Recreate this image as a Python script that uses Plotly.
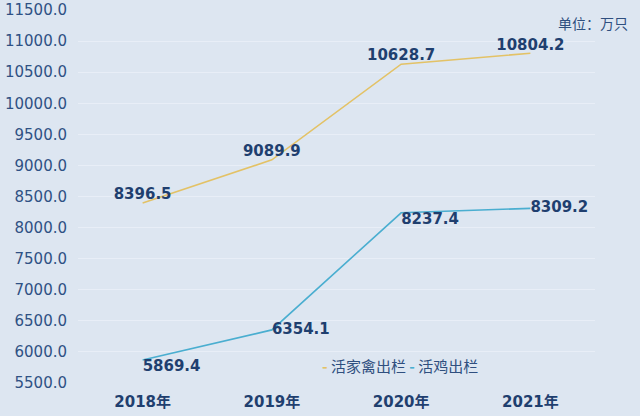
import plotly.graph_objects as go

years = ["2018年", "2019年", "2020年", "2021年"]
poultry = [8396.5, 9089.9, 10628.7, 10804.2]
chicken = [5869.4, 6354.1, 8237.4, 8309.2]
poultry_pos = ["top center", "top center", "top center", "top center"]
chicken_pos = ["bottom right", "middle right", "bottom right", "middle right"]

gold = "#e3c266"
blue = "#4aaed0"
label_color = "#1f3f6f"
tick_color = "#2f5184"
bg = "#dde6f1"

fig = go.Figure()
fig.add_trace(go.Scatter(
    x=years, y=poultry, mode="lines+text", name="活家禽出栏",
    line=dict(color=gold, width=1.6),
    text=[f"{v:.1f}" for v in poultry], textposition=poultry_pos,
    textfont=dict(family="DejaVu Sans", size=15, color=label_color, weight="bold"),
    cliponaxis=False,
))
fig.add_trace(go.Scatter(
    x=years, y=chicken, mode="lines+text", name="活鸡出栏",
    line=dict(color=blue, width=1.6),
    text=[f"{v:.1f}" for v in chicken], textposition=chicken_pos,
    textfont=dict(family="DejaVu Sans", size=15, color=label_color, weight="bold"),
    cliponaxis=False,
))

fig.update_layout(
    width=640, height=416,
    margin=dict(l=78, r=45, t=10, b=33),
    paper_bgcolor=bg, plot_bgcolor=bg,
    showlegend=False,
    font=dict(family="DejaVu Sans, Noto Sans CJK SC", color=tick_color),
    xaxis=dict(
        type="category", range=[-0.5, 3.5], autorange=False,
        showgrid=False, showline=False, zeroline=False, automargin=False,
        tickfont=dict(size=15, color=label_color, weight="bold"),
        ticks="", ticklabelstandoff=8,
    ),
    yaxis=dict(
        range=[5500, 11500], autorange=False, dtick=500, tickformat=".1f",
        showgrid=True, gridcolor="#e8eef7", gridwidth=1,
        zeroline=False, showline=False, automargin=False,
        tickfont=dict(size=15, color=tick_color), ticks="", ticklabelstandoff=10,
    ),
    annotations=[
        dict(text="单位：万只", xref="paper", yref="paper", x=1.068, y=0.965,
             xanchor="right", yanchor="middle", showarrow=False,
             font=dict(size=14, color="#2f4f7f", family="Noto Sans CJK SC")),
        dict(text=f"<span style='color:{gold}'><b>-</b></span> 活家禽出栏 "
                  f"<span style='color:{blue}'><b>-</b></span> 活鸡出栏",
             xref="paper", yref="paper", x=0.468, y=0.046,
             xanchor="left", yanchor="middle", showarrow=False,
             font=dict(size=15, color="#2f4f7f", family="Noto Sans CJK SC")),
    ],
)

fig.write_html("out.html", config={"displayModeBar": False},
               post_script="document.body.style.margin='0px';")
